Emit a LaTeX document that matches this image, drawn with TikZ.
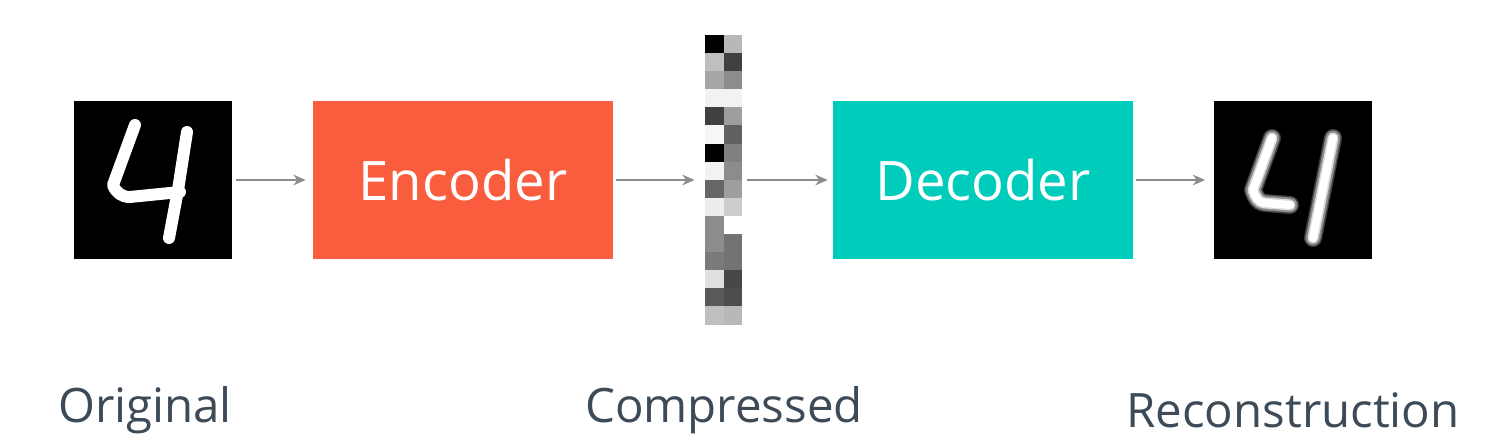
\documentclass[tikz,border=0pt]{standalone}
\usepackage{fontspec}
\setmainfont{Open Sans}
\usepackage{tikz}
\usetikzlibrary{arrows.meta}
\definecolor{rouge}{HTML}{F95D3E}
\definecolor{turquoise}{HTML}{00CCBB}
\definecolor{ardoise}{HTML}{3D4A57}
\definecolor{gris}{HTML}{8C8C8C}
\begin{document}
\begin{tikzpicture}[x=0.02cm,y=-0.02cm]
% Styles
\tikzstyle{fleche}=[-{Stealth[length=7pt,width=6pt]},gris,line width=1.2pt]
\tikzstyle{bloc}=[minimum width=6cm,minimum height=3.18cm,inner sep=0pt,text=white,font=\fontsize{31}{36}\selectfont]
\tikzstyle{image}=[fill=black,minimum width=3.18cm,minimum height=3.18cm,inner sep=0pt]
\tikzstyle{legende}=[text=ardoise,font=\fontsize{27}{32}\selectfont]
\tikzstyle{trait}=[white,line width=0.24cm,line cap=round,line join=round]
\useasboundingbox (0,0) rectangle (1508,448);
% Noeuds
\node[image] (Orig) at (153,180) {};
\node[bloc,fill=rouge] (Enc) at (463,180) {Encoder};
\node[minimum width=0.74cm,minimum height=5.8cm,inner sep=0pt] (Comp) at (723.5,180) {};
\node[bloc,fill=turquoise] (Dec) at (983,180) {Decoder};
\node[image] (Rec) at (1293,180) {};
% Code compresse
\def\Valeurs{{0,72},{75,25},{65,55},{95,95},{25,62},{97,38},{0,50},{95,55},{40,62},{93,80},{55,100},{55,45},{48,45},{88,28},{35,30},{75,72}}
\foreach \g/\d [count=\i from 0] in {0/72,75/25,65/55,95/95,25/62,97/38,0/50,95/55,40/62,93/80,55/100,55/45,48/45,88/28,35/30,75/72}{
  \fill[white!\g!black] (705,{35+\i*18.1}) rectangle (723.5,{35+(\i+1)*18.1});
  \fill[white!\d!black] (723.5,{35+\i*18.1}) rectangle (742,{35+(\i+1)*18.1});
}
% Chiffres
\draw[trait] (135,125) -- (113,185) to[out=-70,in=180] (130,197) -- (180,192);
\draw[trait] (187,132) -- (178,190) -- (169,238);
\foreach \w/\o in {0.36/0.25,0.3/0.4,0.22/0.7,0.16/1}{
  \draw[white,line width=\w cm,line cap=round,line join=round,opacity=\o] (1272,138) -- (1253,190) to[out=-70,in=180] (1265,203) -- (1290,205);
  \draw[white,line width=\w cm,line cap=round,opacity=\o] (1333,138) -- (1313,238);
}
% Arcs
\draw[fleche] (Orig.east) ++(3,0) -- ([xshift=-0.14cm]Enc.west);
\draw[fleche] (Enc.east) ++(3,0) -- ([xshift=-0.2cm]Comp.west);
\draw[fleche] (Comp.east) ++(5,0) -- ([xshift=-0.1cm]Dec.west);
\draw[fleche] (Dec.east) ++(3,0) -- ([xshift=-0.16cm]Rec.west);
% Legendes
\node[legende] (LOrig) at (145,410) {Original};
\node[legende] (LComp) at (724,410) {Compressed};
\node[legende] (LRec) at (1293,410) {Reconstruction};
\end{tikzpicture}
\end{document}
